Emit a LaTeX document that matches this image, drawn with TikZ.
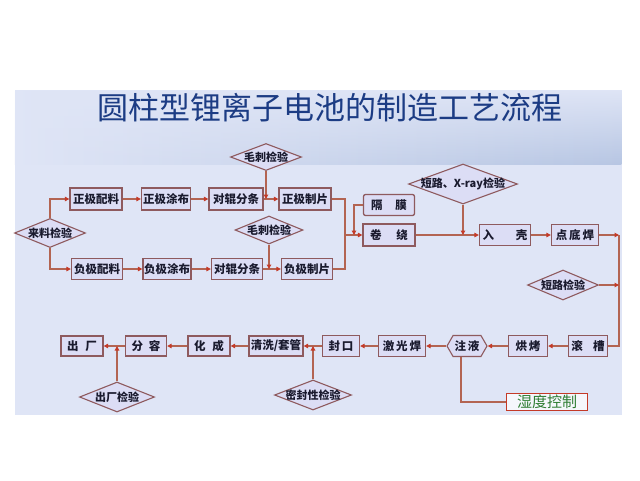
\documentclass[tikz,border=0pt]{standalone}
\usepackage{fontspec}
\setmainfont{Noto Sans CJK SC}
\usetikzlibrary{shapes.geometric,shapes.symbols,arrows.meta,fadings}
\definecolor{bgblue}{HTML}{DFE5F6}
\definecolor{bandblue}{HTML}{B7C6E3}
\definecolor{bdr}{HTML}{8E5A5E}
\definecolor{fillc}{HTML}{DCDDF5}
\definecolor{linec}{HTML}{B36452}
\definecolor{arrc}{HTML}{C43A28}
\definecolor{titlec}{HTML}{1C3C84}
\definecolor{greent}{HTML}{2E7D32}
\definecolor{txt}{HTML}{1A1A2E}
\begin{document}
\begin{tikzpicture}[x=1pt,y=-1pt,
  lbl/.style={font=\fontsize{11.5}{13}\selectfont\bfseries, text=txt},
  dlbl/.style={font=\fontsize{11}{13}\selectfont\bfseries, text=txt},
  box/.style={lbl, draw=bdr, fill=fillc, line width=1.3pt, inner sep=0pt},
  bx/.style 2 args={box, minimum width=#1, minimum height=#2},
  dm/.style 2 args={dlbl, diamond, draw=bdr, fill=fillc, line width=1.1pt, inner sep=0pt, aspect=2.5, minimum width=#1, minimum height=#2},
  ln/.style={draw=linec, line width=1.2pt},
  ar/.style={ln, -{Triangle[length=4.5pt,width=4.5pt,color=arrc]}}]
\useasboundingbox (0,0) rectangle (640,480);
\fill[white] (0,0) rectangle (640,480);
\fill[bgblue] (15,90) rectangle (622,415);
\shade[left color=bgblue, right color=bandblue, path fading=north] (15,90) rectangle (622,165);
% title
\node[font=\fontsize{31}{33}\selectfont, text=titlec] (title) at (330,108) {圆柱型锂离子电池的制造工艺流程};
% row 1
\node[dm={71pt}{29pt}] (lljy) at (50,233) {\makebox[0pt]{来料检验}};
\node[bx={52pt}{22pt}] (zp1) at (96,199) {正极配料};
\node[bx={49pt}{22pt}] (zt) at (166,199) {正极涂布};
\node[bx={54pt}{22pt}] (zd) at (236,199) {对辊分条};
\node[bx={52pt}{22pt}] (zz) at (305,199) {正极制片};
\node[dm={71pt}{27pt}] (mc1) at (266,157) {\makebox[0pt]{毛刺检验}};
% row 2
\node[bx={51pt}{21pt}] (fp) at (97,269) {负极配料};
\node[bx={48pt}{21pt}] (ft) at (167,269) {负极涂布};
\node[bx={51pt}{21pt}] (fd) at (237,269) {对辊分条};
\node[bx={51pt}{21pt}] (fz) at (307,269) {负极制片};
\node[dm={68pt}{28pt}] (mc2) at (269,230) {\makebox[0pt]{毛刺检验}};
% middle
\node[bx={51pt}{21pt}, rounded corners=2pt] (gm) at (389,205) {隔\hspace{1.1em}膜};
\node[bx={52pt}{22pt}] (jr) at (389,235) {卷\hspace{1.3em}绕};
\node[dm={109pt}{40pt}, aspect=2.7] (xr) at (463,184) {\makebox[0pt]{短路、X-ray检验}};
\node[bx={51pt}{21pt}] (rk) at (505,235) {入\hspace{1.9em}壳};
\node[bx={47pt}{21pt}] (ddh) at (575,235) {点\,底\,焊};
\node[dm={71pt}{30pt}] (dljy) at (563,285) {\makebox[0pt]{短路检验}};
% row 3
\node[bx={39pt}{21pt}] (gc) at (588,346) {滚\hspace{0.9em}槽};
\node[bx={39pt}{21pt}] (hk) at (528,346) {烘\,烤};
\node[lbl, signal, signal to=east and west, signal pointer angle=120, draw=bdr, fill=fillc, line width=1.1pt, inner sep=0pt, minimum width=40pt, minimum height=21pt] (zy) at (467,346) {\makebox[0pt]{注\,液}};
\node[bx={47pt}{21pt}] (jgh) at (402,346) {激\,光\,焊};
\node[bx={37pt}{21pt}] (fk) at (341,346) {封\,口};
\node[bx={54pt}{20pt}] (qx) at (276,346) {清洗/套管};
\node[dm={77pt}{30pt}] (mf) at (313,395) {\makebox[0pt]{密封性检验}};
\node[bx={42pt}{20pt}] (hc) at (209,346) {化\hspace{0.6em}成};
\node[bx={41pt}{20pt}] (fr) at (146,346) {分\hspace{0.5em}容};
\node[bx={42pt}{20pt}] (cc) at (82,346) {出\hspace{0.6em}厂};
\node[dm={75pt}{30pt}] (ccjy) at (117,397) {\makebox[0pt]{出厂检验}};
\node[draw=arrc, fill=white!70!bgblue, line width=0.8pt, inner sep=0pt, minimum width=81pt, minimum height=17pt, text=greent, font=\fontsize{15}{16}\selectfont] (sd) at (547,402) {湿度控制};
% connectors
\draw[ar] (lljy.north) |- (zp1.west);
\draw[ar] (lljy.south) |- (fp.west);
\draw[ar] (zp1.east) -- (zt.west);
\draw[ar] (zt.east) -- (zd.west);
\draw[ar] (zd.east) -- (zz.west);
\draw[ar] (mc1.south) -- (mc1.south |- zz.west);
\draw[ar] (fp.east) -- (ft.west);
\draw[ar] (ft.east) -- (fd.west);
\draw[ar] (fd.east) -- (fz.west);
\draw[ar] (mc2.south) -- (mc2.south |- fz.west);
\coordinate (mg) at (345,235);
\draw[ln] (zz.east) -| (mg);
\draw[ln] (fz.east) -| (mg);
\draw[ar] (mg) -- (jr.west);
\coordinate (gmj) at (354,235);
\draw[ar] (gm.west) -| (gmj);
\draw[ar] (jr.east) -- (rk.west);
\draw[ar] (xr.south) -- (xr.south |- rk.west);
\draw[ar] (rk.east) -- (ddh.west);
\coordinate (rt) at (619,235);
\draw[ar] (ddh.east) -- (rt);
\draw[ln] (rt) |- (gc.east);
\draw[ar] (dljy.east) -- (dljy.east -| rt);
\draw[ar] (gc.west) -- (hk.east);
\draw[ar] (hk.west) -- (zy.east);
\draw[ar] (zy.west) -- (jgh.east);
\draw[ar] (jgh.west) -- (fk.east);
\draw[ar] (fk.west) -- (qx.east);
\draw[ar] (qx.west) -- (hc.east);
\draw[ar] (hc.west) -- (fr.east);
\draw[ar] (fr.west) -- (cc.east);
\draw[ar] (mf.north) -- (mf.north |- qx.east);
\draw[ar] (ccjy.north) -- (ccjy.north |- cc.east);
\draw[ln] ([xshift=-6pt]zy.south) |- (sd.west);
\end{tikzpicture}
\end{document}
